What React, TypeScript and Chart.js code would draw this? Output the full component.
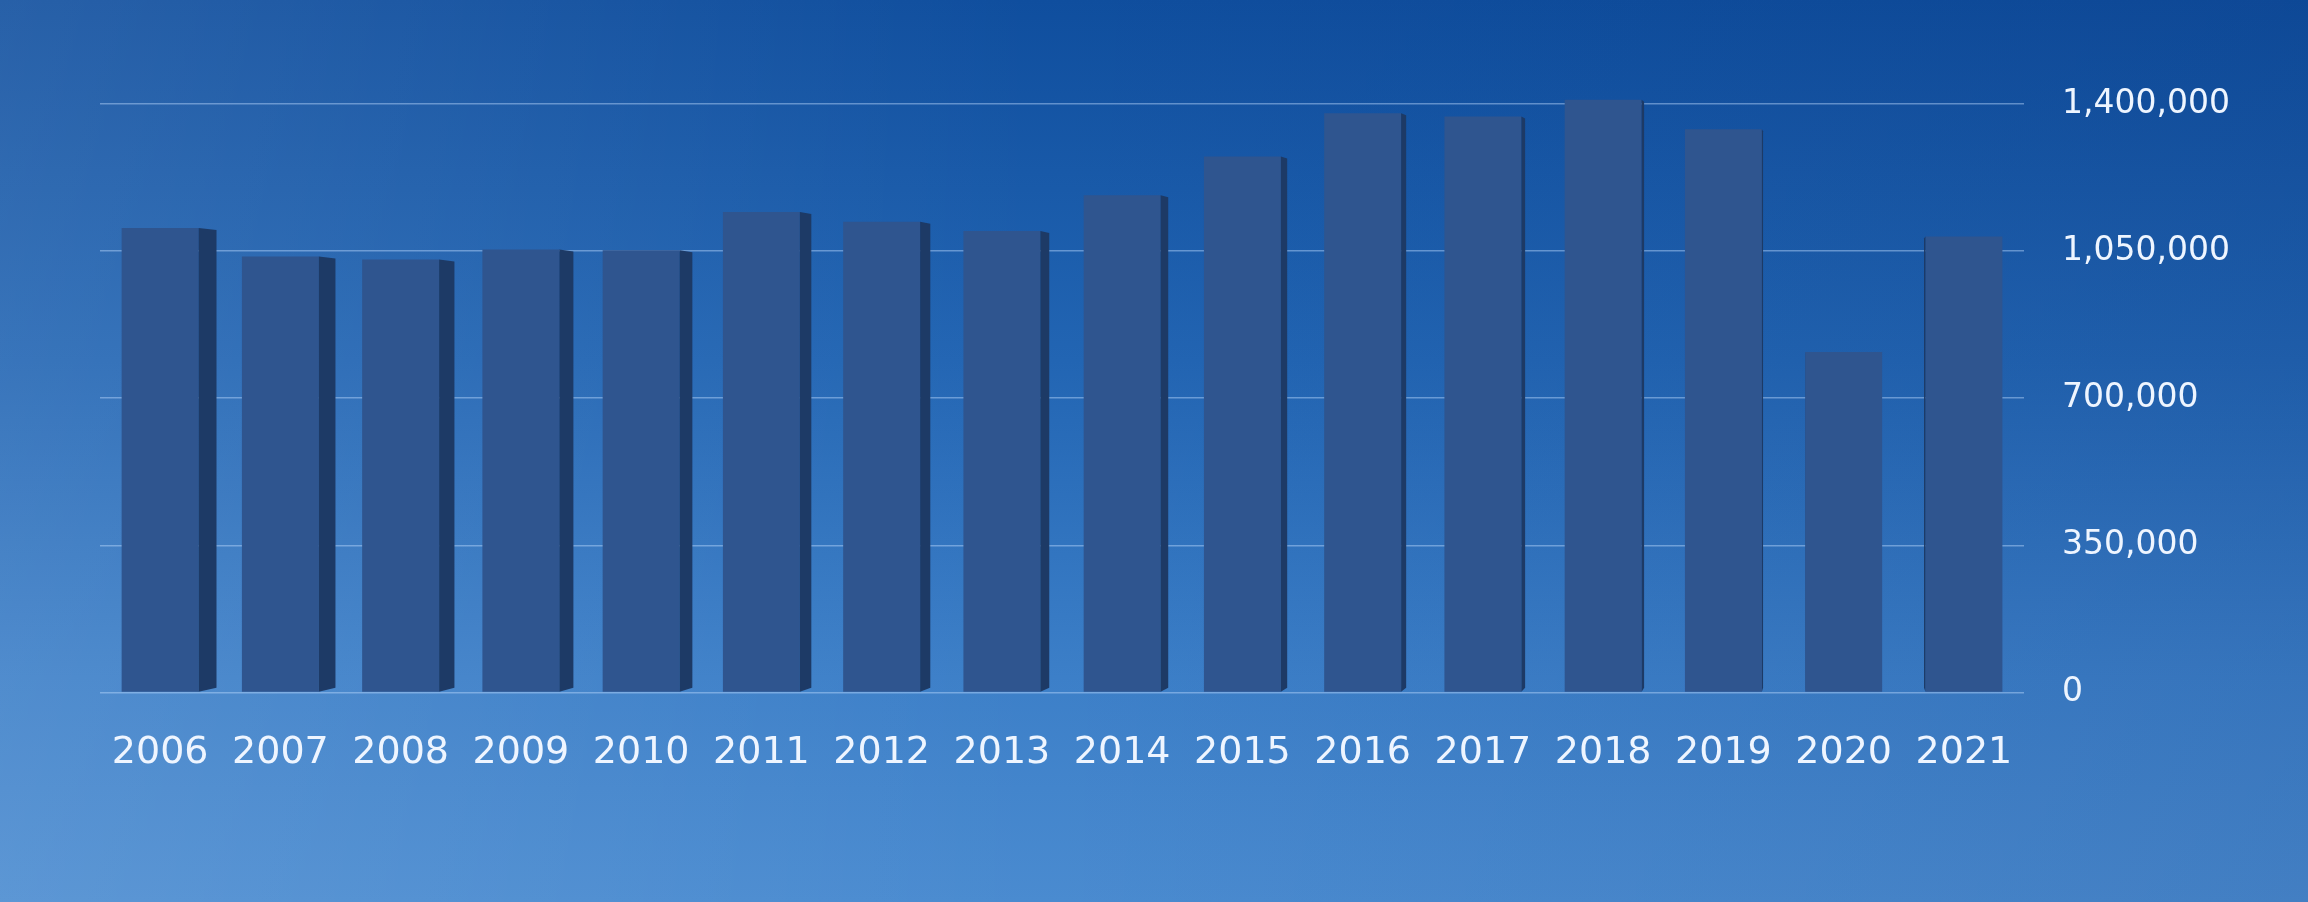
import React, { useEffect, useRef } from "react";
import { Chart, registerables } from "chart.js";

Chart.register(...registerables);

const years = ["2006", "2007", "2008", "2009", "2010", "2011", "2012", "2013", "2014", "2015", "2016", "2017", "2018", "2019", "2020", "2021"];
const visitors = [1105000, 1037000, 1030000, 1054000, 1052000, 1143000, 1120000, 1098000, 1183000, 1275000, 1378000, 1370000, 1410000, 1340000, 810000, 1085000];
const yTickValues = [0, 350000, 700000, 1050000, 1400000];

const FONT = "'DejaVu Sans', 'Open Sans', sans-serif";
const TEXT = "#eef5ff";

const sideFacePlugin = {
  id: "sideFaces",
  afterDatasetsDraw(chart: any) {
    const ctx = chart.ctx;
    const meta = chart.getDatasetMeta(0);
    const vp = chart.chartArea.left + (chart.chartArea.right - chart.chartArea.left) * 0.9;
    ctx.save();
    meta.data.forEach((bar: any) => {
      const p = bar.getProps(["x", "y", "base", "width"], true);
      const half = p.width / 2;
      const sw = (vp - p.x) * 0.0107;
      ctx.fillStyle = "#1d3a66";
      ctx.beginPath();
      const x0 = sw >= 0 ? p.x + half : p.x - half;
      ctx.moveTo(x0, p.y);
      ctx.lineTo(x0 + sw, p.y + 2);
      ctx.lineTo(x0 + sw, p.base - 4);
      ctx.lineTo(x0, p.base);
      ctx.closePath();
      ctx.fill();
    });
    ctx.restore();
  },
};

export default function App() {
  const canvasRef = useRef<HTMLCanvasElement | null>(null);

  useEffect(() => {
    if (!canvasRef.current) return;
    const chart = new Chart(canvasRef.current, {
      type: "bar",
      data: {
        labels: years,
        datasets: [
          {
            data: visitors,
            backgroundColor: "#2f558f",
            borderWidth: 0,
            barPercentage: 0.64,
            categoryPercentage: 1,
            clip: false as any,
          },
        ],
      },
      plugins: [sideFacePlugin],
      options: {
        animation: false,
        responsive: true,
        maintainAspectRatio: false,
        layout: { padding: { top: 104, left: 100, right: 40, bottom: 96 } },
        plugins: { legend: { display: false }, tooltip: { enabled: false } },
        scales: {
          x: {
            grid: { display: false },
            border: { display: false },
            ticks: {
              color: TEXT,
              font: { family: FONT, size: 38 },
              padding: 30,
              maxRotation: 0,
              autoSkip: false,
            },
          },
          y: {
            position: "right",
            min: 0,
            max: 1400000,
            afterBuildTicks: (axis: any) => {
              axis.ticks = yTickValues.map((v) => ({ value: v }));
            },
            grid: { color: "rgba(190,220,255,0.45)", lineWidth: 1.5, drawTicks: false },
            border: { display: false },
            ticks: {
              color: TEXT,
              font: { family: FONT, size: 33 },
              padding: 38,
              callback: (v: any) => Number(v).toLocaleString("en-US"),
            },
          },
        },
      },
    });
    return () => chart.destroy();
  }, []);

  return (
    <div
      style={{
        position: "fixed",
        left: 0,
        top: 0,
        width: 2308,
        height: 902,
        background:
          "linear-gradient(to right, rgba(255,255,255,0.1) 0%, rgba(255,255,255,0) 45%, rgba(0,20,80,0.1) 100%), linear-gradient(to bottom, #0f4e9e 0%, #2265b3 40%, #3c7fc8 75%, #4a8bd0 100%)",
      }}
    >
      <canvas ref={canvasRef} style={{ width: "100%", height: "100%" }} />
    </div>
  );
}
